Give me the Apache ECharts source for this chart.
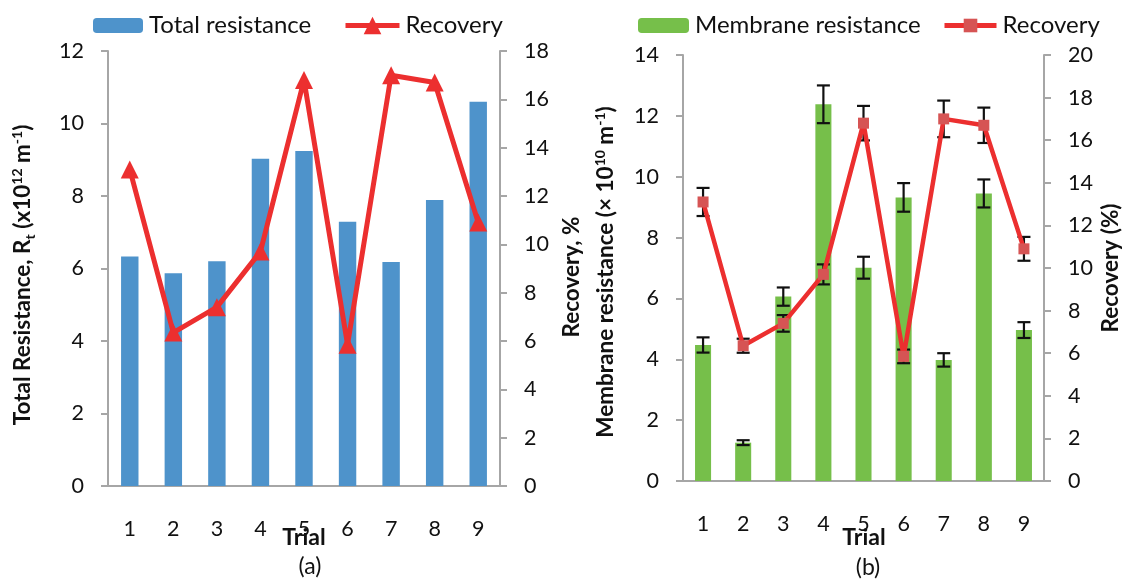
<!DOCTYPE html>
<html>
<head>
<meta charset="utf-8">
<title>Resistance and recovery by trial</title>
<script src="https://cdn.jsdelivr.net/npm/echarts@6/dist/echarts.min.js"></script>
<style>
  html, body { margin: 0; padding: 0; background: #fff; }
  #chart { width: 1126px; height: 579px; }
</style>
</head>
<body>
<div id="chart"></div>
<script>
// Trial numbers shared by both panels
const categories = ['1', '2', '3', '4', '5', '6', '7', '8', '9'];

// Panel (a): total resistance (x10^12 m^-1) and recovery (%)
const totalResistance = [6.33, 5.87, 6.2, 9.03, 9.24, 7.29, 6.18, 7.89, 10.6];
const recovery = [13.1, 6.35, 7.4, 9.7, 16.8, 5.85, 17.0, 16.7, 10.9];

// Panel (b): membrane resistance (x10^10 m^-1) with its errors, recovery errors
const membraneResistance = [4.47, 1.26, 6.06, 12.38, 7.01, 9.32, 3.98, 9.45, 4.96];
const membraneError = [0.25, 0.08, 0.3, 0.62, 0.36, 0.47, 0.22, 0.46, 0.26];
const recoveryError = [0.66, 0.33, 0.39, 0.47, 0.81, 0.32, 0.86, 0.83, 0.56];

// Axis scales
const axisA = { max: 12, interval: 2 };
const axisRecA = { max: 18, interval: 2 };
const axisB = { max: 14, interval: 2 };
const axisRecB = { max: 20, interval: 2 };

const FONT = 'Lato, "Open Sans", sans-serif';
const GRAY = '#a6a6a6';
const RED = '#ec2f2f';
const TICK_FONT = 21.5;
const LEGEND_FONT = 24;
const LEGEND_TOP = 13.5;

const chart = echarts.init(document.getElementById('chart'));

function xAxisCfg(gridIndex) {
  return {
    type: 'category',
    gridIndex: gridIndex,
    data: categories,
    boundaryGap: true,
    axisLine: { lineStyle: { color: GRAY, width: 2 } },
    axisTick: { alignWithLabel: true, length: 6, lineStyle: { color: GRAY, width: 2 } },
    axisLabel: { margin: 32, fontSize: TICK_FONT, color: '#111', fontFamily: FONT },
    splitLine: { show: false }
  };
}

function yAxisCfg(gridIndex, scale, position) {
  return {
    type: 'value',
    gridIndex: gridIndex,
    position: position,
    min: 0,
    max: scale.max,
    interval: scale.interval,
    axisLine: { show: true, lineStyle: { color: GRAY, width: 2 } },
    axisTick: { show: true, length: 7, lineStyle: { color: GRAY, width: 2 } },
    axisLabel: { margin: 24, fontSize: TICK_FONT, color: '#111', fontFamily: FONT },
    splitLine: { show: false }
  };
}

// One legend entry, placed on its own so each can have its own icon size
function legendEntry(name, left, itemWidth, itemHeight) {
  return {
    data: [name],
    left: left,
    top: LEGEND_TOP,
    padding: 0,
    itemWidth: itemWidth,
    itemHeight: itemHeight,
    itemGap: 0,
    lineStyle: { width: 5 },
    textStyle: { fontSize: LEGEND_FONT, color: '#111', fontFamily: FONT, padding: [0, 0, 0, 1] },
    formatter: function (n) { return n.replace(/ \([ab]\)$/, ''); }
  };
}

// Draws an I-shaped error bar around each value
function errorBar(capWidth) {
  return function (params, api) {
    const i = api.value(0);
    const v = api.value(1);
    const e = api.value(2);
    const hi = api.coord([i, v + e]);
    const lo = api.coord([i, v - e]);
    const half = capWidth / 2;
    const style = { stroke: '#111', lineWidth: 2.2 };
    return {
      type: 'group',
      children: [
        { type: 'line', shape: { x1: hi[0], y1: hi[1], x2: lo[0], y2: lo[1] }, style: style },
        { type: 'line', shape: { x1: hi[0] - half, y1: hi[1], x2: hi[0] + half, y2: hi[1] }, style: style },
        { type: 'line', shape: { x1: lo[0] - half, y1: lo[1], x2: lo[0] + half, y2: lo[1] }, style: style }
      ]
    };
  };
}

function rotatedTitle(x, y, text, rich) {
  return {
    type: 'text',
    x: x,
    y: y,
    rotation: Math.PI / 2,
    style: {
      text: text,
      align: 'center',
      verticalAlign: 'middle',
      fill: '#111',
      font: 'bold 22.5px ' + FONT,
      rich: rich || {}
    }
  };
}

function plainText(x, y, text, weight) {
  return {
    type: 'text',
    x: x,
    y: y,
    style: {
      text: text,
      align: 'center',
      verticalAlign: 'middle',
      fill: '#111',
      font: (weight || 'normal') + ' 23px ' + FONT
    }
  };
}

const unitRich = {
  a: { fontSize: 22.5, fontWeight: 'bold', fontFamily: FONT, lineHeight: 28, verticalAlign: 'middle', color: '#111' },
  sup: { fontSize: 14, fontWeight: 'bold', fontFamily: FONT, lineHeight: 14, verticalAlign: 'top', color: '#111', padding: [1, 0, 0, 0] },
  sub: { fontSize: 14, fontWeight: 'bold', fontFamily: FONT, lineHeight: 14, verticalAlign: 'bottom', color: '#111' }
};

const option = {
  animation: false,
  backgroundColor: '#fff',
  textStyle: { fontFamily: FONT },
  legend: [
    legendEntry('Total resistance', 93, 50, 15),
    legendEntry('Recovery (a)', 343, 54, 22),
    legendEntry('Membrane resistance', 638, 51, 15),
    legendEntry('Recovery (b)', 942, 52, 17)
  ],
  grid: [
    { left: 108, right: 626, top: 51, bottom: 93 },
    { left: 683, right: 82, top: 55, bottom: 98 }
  ],
  xAxis: [xAxisCfg(0), xAxisCfg(1)],
  yAxis: [
    yAxisCfg(0, axisA, 'left'),
    yAxisCfg(0, axisRecA, 'right'),
    yAxisCfg(1, axisB, 'left'),
    yAxisCfg(1, axisRecB, 'right')
  ],
  series: [
    {
      name: 'Total resistance',
      type: 'bar',
      xAxisIndex: 0,
      yAxisIndex: 0,
      barWidth: '40%',
      itemStyle: { color: '#4e93cb' },
      data: totalResistance,
      z: 2
    },
    {
      name: 'Recovery (a)',
      type: 'line',
      xAxisIndex: 0,
      yAxisIndex: 1,
      symbol: 'triangle',
      symbolSize: 18,
      lineStyle: { color: RED, width: 5 },
      itemStyle: { color: RED },
      data: recovery,
      z: 4
    },
    {
      name: 'Membrane resistance',
      type: 'bar',
      xAxisIndex: 1,
      yAxisIndex: 2,
      barWidth: '40%',
      itemStyle: { color: '#76bf4a' },
      data: membraneResistance,
      z: 2
    },
    {
      name: 'Membrane error',
      type: 'custom',
      xAxisIndex: 1,
      yAxisIndex: 2,
      renderItem: errorBar(13),
      encode: { x: 0, y: 1 },
      data: membraneResistance.map(function (v, i) { return [i, v, membraneError[i]]; }),
      z: 3
    },
    {
      name: 'Recovery (b)',
      type: 'line',
      xAxisIndex: 1,
      yAxisIndex: 3,
      symbol: 'rect',
      symbolSize: 11,
      lineStyle: { color: RED, width: 4.5 },
      itemStyle: { color: '#d65454' },
      data: recovery,
      z: 4
    },
    {
      name: 'Recovery error',
      type: 'custom',
      xAxisIndex: 1,
      yAxisIndex: 3,
      renderItem: errorBar(13),
      encode: { x: 0, y: 1 },
      data: recovery.map(function (v, i) { return [i, v, recoveryError[i]]; }),
      z: 3
    }
  ],
  graphic: [
    rotatedTitle(23, 275, '{a|Total Resistance, R}{sub|t}{a| (x10}{sup|12}{a| m}{sup|-1}{a|)}', unitRich),
    rotatedTitle(572, 277, 'Recovery, %'),
    plainText(304, 538, 'Trial', 'bold'),
    plainText(310, 567, '(a)'),
    rotatedTitle(606, 272, '{a|Membrane resistance (\u00d7 10}{sup|10}{a| m}{sup|-1}{a|)}', unitRich),
    rotatedTitle(1111, 268, 'Recovery (%)'),
    plainText(864, 538, 'Trial', 'bold'),
    plainText(868, 568, '(b)')
  ]
};

chart.setOption(option);
</script>
</body>
</html>
